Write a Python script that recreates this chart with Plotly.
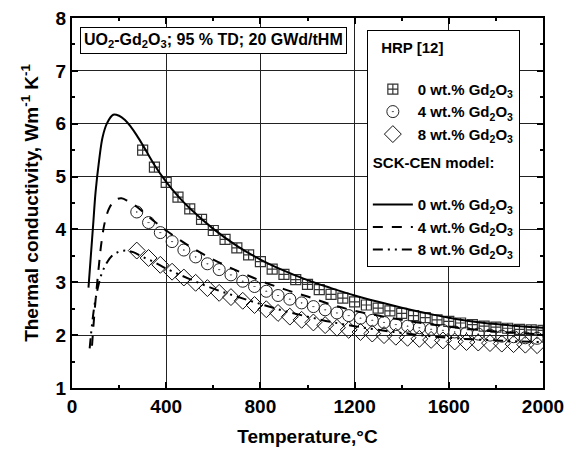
import plotly.graph_objects as go

# ---- data ----
T_sq = [300, 350, 400, 450, 500, 550, 600, 650, 700, 750, 800, 850, 900, 950, 1000,
        1050, 1100, 1150, 1200, 1250, 1300, 1350, 1400, 1450, 1500, 1550, 1600, 1650,
        1700, 1750, 1800, 1850, 1900, 1950, 2000]
k_sq = [5.50, 5.18, 4.89, 4.61, 4.39, 4.19, 3.98, 3.81, 3.65, 3.52, 3.39, 3.25, 3.15, 3.05, 2.96,
        2.86, 2.77, 2.70, 2.63, 2.57, 2.51, 2.46, 2.41, 2.37, 2.33, 2.29, 2.26, 2.23,
        2.20, 2.17, 2.15, 2.13, 2.11, 2.10, 2.09]

T_cd = [275, 325, 375, 425, 475, 525, 575, 625, 675, 725, 775, 825, 875, 925, 975,
        1025, 1075, 1125, 1175, 1225, 1275, 1325, 1375, 1425, 1475, 1525, 1575, 1625,
        1675, 1725, 1775, 1825, 1875, 1925, 1975]
k_ci = [4.33, 4.13, 3.94, 3.77, 3.61, 3.48, 3.35, 3.24, 3.14, 3.02, 2.92, 2.83, 2.75, 2.68, 2.61,
        2.54, 2.48, 2.42, 2.37, 2.32, 2.28, 2.24, 2.20, 2.17, 2.14, 2.11, 2.09, 2.06,
        2.04, 2.02, 2.00, 1.98, 1.97, 1.95, 1.94]
k_di = [3.60, 3.46, 3.33, 3.20, 3.09, 2.99, 2.89, 2.80, 2.72, 2.65, 2.57, 2.49, 2.42, 2.35, 2.29,
        2.24, 2.19, 2.14, 2.10, 2.06, 2.03, 2.00, 1.97, 1.95, 1.93, 1.91, 1.90, 1.88,
        1.87, 1.86, 1.85, 1.84, 1.83, 1.82, 1.81]

T_m0 = [70, 80, 90, 100, 115, 130, 150, 175, 200, 225, 250, 275, 300, 350, 400, 450, 500,
        600, 700, 800, 900, 1000, 1100, 1200, 1300, 1400, 1500, 1600, 1700, 1800, 1900, 2000]
k_m0 = [2.90, 3.50, 4.10, 4.70, 5.30, 5.75, 6.02, 6.17, 6.15, 6.07, 5.94, 5.78, 5.60, 5.22, 4.90,
        4.63, 4.40, 4.01, 3.69, 3.43, 3.22, 3.04, 2.89, 2.75, 2.63, 2.52, 2.42, 2.33, 2.26,
        2.21, 2.17, 2.14]

T_m4 = [85, 95, 105, 115, 125, 140, 160, 185, 210, 240, 275, 300, 350, 400, 500, 600, 700,
        800, 900, 1000, 1100, 1200, 1300, 1400, 1500, 1600, 1700, 1800, 1900, 2000]
k_m4 = [1.80, 2.40, 2.90, 3.35, 3.75, 4.15, 4.42, 4.56, 4.59, 4.53, 4.43, 4.34, 4.15, 3.98, 3.68,
        3.43, 3.22, 3.03, 2.87, 2.73, 2.58, 2.46, 2.37, 2.29, 2.22, 2.16, 2.11, 2.07, 2.04, 2.01]

T_m8 = [75, 85, 95, 110, 125, 145, 170, 200, 230, 260, 300, 350, 400, 500, 600, 700, 800,
        900, 1000, 1100, 1200, 1300, 1400, 1500, 1600, 1700, 1800, 1900, 2000]
k_m8 = [1.75, 2.20, 2.55, 2.90, 3.15, 3.35, 3.50, 3.58, 3.60, 3.57, 3.48, 3.38, 3.26, 3.06, 2.88,
        2.73, 2.59, 2.46, 2.35, 2.25, 2.17, 2.10, 2.04, 1.99, 1.95, 1.92, 1.90, 1.88, 1.87]

lbl = ["0 wt.% Gd<sub>2</sub>O<sub>3</sub>", "4 wt.% Gd<sub>2</sub>O<sub>3</sub>",
       "8 wt.% Gd<sub>2</sub>O<sub>3</sub>"]

FONT = "Liberation Sans, Arial, sans-serif"

fig = go.Figure()
fig.add_trace(go.Scatter(x=T_sq, y=k_sq, mode="markers", name=lbl[0],
                         legendgroup="hrp", legendgrouptitle_text="<b>  HRP [12]</b><br> ",
                         marker=dict(symbol="square-cross-open", size=10, color="#333",
                                     line=dict(width=1.2, color="#333"))))
fig.add_trace(go.Scatter(x=T_cd, y=k_ci, mode="markers", name=lbl[1],
                         legendgroup="hrp",
                         marker=dict(symbol="circle-open-dot", size=12, color="#222",
                                     line=dict(width=1, color="#222"))))
fig.add_trace(go.Scatter(x=T_cd, y=k_di, mode="markers", name=lbl[2],
                         legendgroup="hrp",
                         marker=dict(symbol="diamond-open", size=13, color="#111",
                                     line=dict(width=1, color="#111"))))
fig.add_trace(go.Scatter(x=T_m0, y=k_m0, mode="lines", name=lbl[0],
                         legendgroup="sck", legendgrouptitle_text="<b>SCK-CEN model:</b><br> ",
                         line=dict(color="black", width=2, dash="solid", shape="spline")))
fig.add_trace(go.Scatter(x=T_m4, y=k_m4, mode="lines", name=lbl[1],
                         legendgroup="sck",
                         line=dict(color="black", width=2, dash="10px,9px", shape="spline")))
fig.add_trace(go.Scatter(x=T_m8, y=k_m8, mode="lines", name=lbl[2],
                         legendgroup="sck",
                         line=dict(color="black", width=2, dash="10px,5px,2px,5px,2px,5px", shape="spline")))

axis_common = dict(showline=True, linecolor="black", linewidth=2, mirror="allticks",
                   ticks="inside", ticklen=6, tickwidth=1.5, tickcolor="black",
                   showgrid=True, gridcolor="#222", gridwidth=1, zeroline=False,
                   automargin=False, ticklabeloverflow="allow",
                   tickfont=dict(family=FONT, size=19, color="black", weight="bold"))

fig.update_xaxes(range=[0, 2000], dtick=400, tick0=0,
                 minor=dict(dtick=200, ticks="inside", ticklen=3, tickcolor="black", showgrid=False),
                 title=dict(text="<b>Temperature,°C</b>", standoff=14,
                            font=dict(family=FONT, size=19, color="black")),
                 **axis_common)
fig.update_yaxes(range=[1, 8], dtick=1, tick0=1,
                 minor=dict(dtick=0.5, ticks="inside", ticklen=3, tickcolor="black", showgrid=False),
                 title=dict(text="<b>Thermal conductivity, Wm<sup>-1</sup> K<sup>-1</sup></b>", standoff=12,
                            font=dict(family=FONT, size=19, color="black")),
                 **axis_common)

fig.add_annotation(xref="paper", yref="paper", x=0.017, y=0.976, xanchor="left", yanchor="top",
                   text="<b>UO<sub>2</sub>-Gd<sub>2</sub>O<sub>3</sub>; 95 % TD; 20 GWd/tHM</b>",
                   showarrow=False, bgcolor="white", bordercolor="black", borderwidth=1,
                   borderpad=3, font=dict(family=FONT, size=16, color="black"))

fig.update_layout(
    width=581, height=455,
    margin=dict(l=64, r=46, t=10, b=75),
    paper_bgcolor="white", plot_bgcolor="white",
    showlegend=True,
    legend=dict(x=0.626, y=0.968, xanchor="left", yanchor="top",
                bgcolor="white", bordercolor="black", borderwidth=1,
                font=dict(family=FONT, size=15, color="black", weight="bold"),
                grouptitlefont=dict(family=FONT, size=15, color="black"),
                tracegroupgap=6, itemwidth=40),
    font=dict(family=FONT, color="black"),
)

fig.write_html("out.html")
